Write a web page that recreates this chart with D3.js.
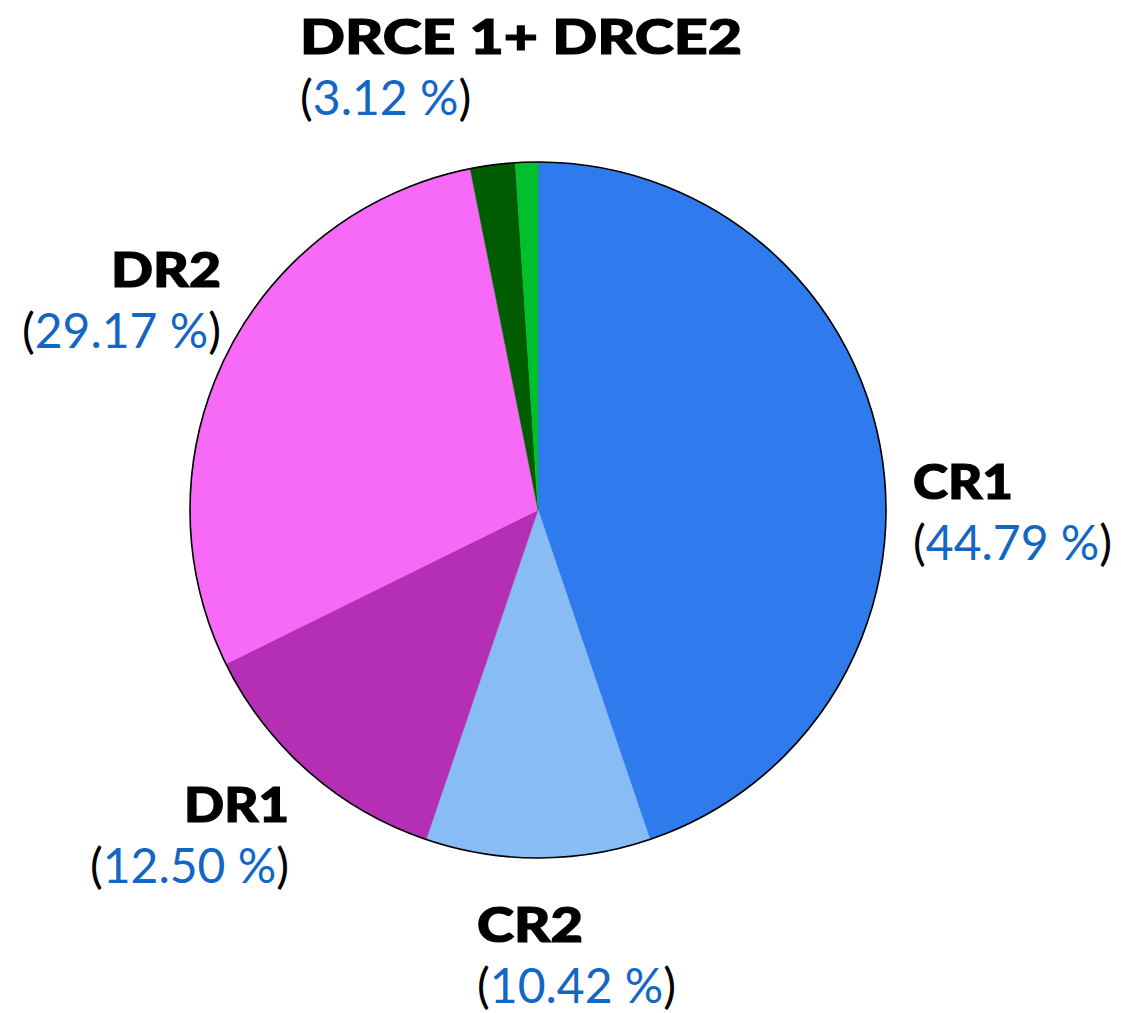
<!DOCTYPE html>
<html>
<head>
<meta charset="utf-8">
<script src="https://cdn.jsdelivr.net/npm/d3@7"></script>
<style>
  html, body { margin: 0; padding: 0; background: #fff; }
  svg { display: block; }
</style>
</head>
<body>
<svg id="chart" width="1121" height="1013"></svg>
<script>
// ---- data ----
const categories = ["CR1", "CR2", "DR1", "DR2", "DRCE1", "DRCE2"];
const shares = [44.79, 10.42, 12.50, 29.17, 2.08, 1.04];
const labelNames = ["CR1", "CR2", "DR1", "DR2", "DRCE 1+ DRCE2"];
const labelPcts = ["44.79 %", "10.42 %", "12.50 %", "29.17 %", "3.12 %"];

// ---- styling / layout ----
const colors = {
  CR1: "#2F7BED", CR2: "#87BCF5", DR1: "#B52FB5", DR2: "#F76AF7",
  DRCE1: "#005C00", DRCE2: "#00C12B"
};
const cx = 538, cy = 510, R = 348;
// label layout: anchor x, first baseline y, alignment, target width of name line
const labelLayout = {
  "CR1": { x: 913, y: 499, anchor: "start", w1: 100 },
  "CR2": { x: 477, y: 942, anchor: "start", w1: 106 },
  "DR1": { x: 289, y: 822, anchor: "end", w1: 105 },
  "DR2": { x: 221, y: 287, anchor: "end", w1: 110 },
  "DRCE 1+ DRCE2": { x: 300, y: 54, anchor: "start", w1: 442 }
};
const lineGap = 61;
const fontSize = 48;
const blue = "#1266C4";

const svg = d3.select("#chart");
const g = svg.append("g").attr("transform", `translate(${cx},${cy})`);

const pie = d3.pie().sort(null).value(d => d.v);
const arc = d3.arc().innerRadius(0).outerRadius(R);
const data = categories.map((c, i) => ({ c, v: shares[i] }));

g.selectAll("path.slice")
  .data(pie(data))
  .join("path")
  .attr("class", "slice")
  .attr("d", arc)
  .attr("fill", d => colors[d.data.c])
  .attr("stroke", d => colors[d.data.c])
  .attr("stroke-width", 0.5);

g.append("circle")
  .attr("r", R)
  .attr("fill", "none")
  .attr("stroke", "#000")
  .attr("stroke-width", 1.6);

// labels
labelNames.forEach((name, i) => {
  const L = labelLayout[name];
  svg.append("text")
    .attr("x", L.x).attr("y", L.y)
    .attr("text-anchor", L.anchor)
    .attr("font-family", "Lato, 'Open Sans', sans-serif")
    .attr("font-weight", 900)
    .attr("font-size", fontSize)
    .attr("fill", "#000")
    .attr("stroke", "#000")
    .attr("stroke-width", 1.2)
    .attr("textLength", L.w1)
    .attr("lengthAdjust", "spacingAndGlyphs")
    .text(name);
  const t2 = svg.append("text")
    .attr("x", L.x).attr("y", L.y + lineGap)
    .attr("text-anchor", L.anchor)
    .attr("font-family", "Lato, 'Open Sans', sans-serif")
    .attr("font-weight", 400)
    .attr("font-size", fontSize)
    .attr("fill", "#000");
  t2.append("tspan").text("(");
  t2.append("tspan").attr("fill", blue).text(labelPcts[i]);
  t2.append("tspan").text(")");
});
</script>
</body>
</html>
